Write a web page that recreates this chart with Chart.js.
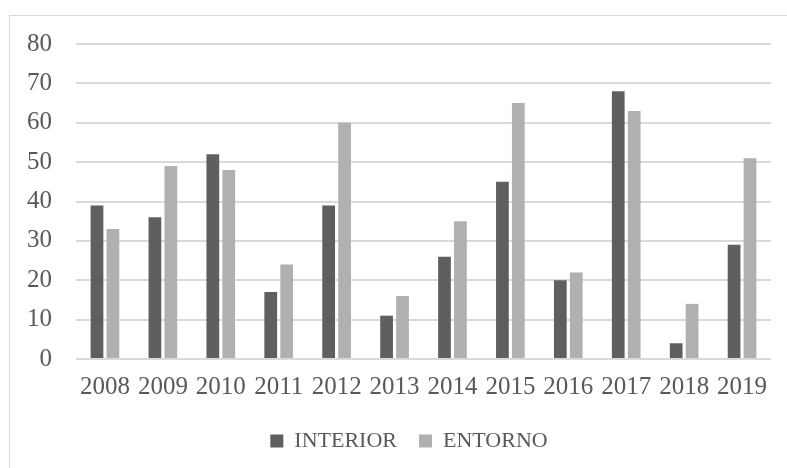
<!DOCTYPE html>
<html>
<head>
<meta charset="utf-8">
<script src="https://cdn.jsdelivr.net/npm/chart.js@4"></script>
<style>
  html, body { margin: 0; padding: 0; background: #fff; overflow: hidden; }
  #frame {
    position: absolute;
    left: 9px;
    top: 15px;
    width: 798px;
    height: 470px;
    border: 1px solid #d9d9d9;
  }
</style>
</head>
<body>
<div id="frame"><canvas id="chart"></canvas></div>
<script>
const years = ['2008', '2009', '2010', '2011', '2012', '2013', '2014', '2015', '2016', '2017', '2018', '2019'];
const interior = [39, 36, 52, 17, 39, 11, 26, 45, 20, 68, 4, 29];
const entorno = [33, 49, 48, 24, 60, 16, 35, 65, 22, 63, 14, 51];
const yTicks = [0, 10, 20, 30, 40, 50, 60, 70, 80];

const textColor = '#595959';
const gridColor = '#d9d9d9';
const serif = '"Liberation Serif", serif';
const rightGap = 37;

// center the legend on the whole canvas instead of the padded box
const centerLegend = {
    id: 'centerLegend',
    afterLayout(chart) {
        if (chart.legend) {
            chart.legend.left += rightGap;
        }
    }
};

new Chart(document.getElementById('chart'), {
    type: 'bar',
    data: {
        labels: years,
        datasets: [
            {
                label: 'INTERIOR',
                data: interior,
                backgroundColor: '#5f5f5f',
                barPercentage: 0.8,
                categoryPercentage: 0.55
            },
            {
                label: 'ENTORNO',
                data: entorno,
                backgroundColor: '#b0b0b0',
                barPercentage: 0.8,
                categoryPercentage: 0.55
            }
        ]
    },
    plugins: [centerLegend],
    options: {
        responsive: true,
        maintainAspectRatio: false,
        animation: false,
        layout: { padding: { top: 28, right: rightGap, bottom: 24, left: 0 } },
        plugins: {
            tooltip: { enabled: false },
            legend: {
                position: 'bottom',
                labels: {
                    color: textColor,
                    font: { family: serif, size: 22 },
                    boxWidth: 13,
                    boxHeight: 13,
                    padding: 22
                }
            }
        },
        scales: {
            x: {
                grid: { display: false },
                border: { display: false },
                ticks: {
                    color: textColor,
                    font: { family: serif, size: 25, lineHeight: 0.76 },
                    padding: 11,
                    maxRotation: 0,
                    autoSkip: false
                }
            },
            y: {
                min: 0,
                max: 80,
                afterFit: (scale) => { scale.width = 66; },
                afterBuildTicks: (scale) => { scale.ticks = yTicks.map(v => ({ value: v })); },
                grid: { color: gridColor, lineWidth: 2, drawTicks: false },
                border: { display: false },
                ticks: {
                    color: textColor,
                    font: { family: serif, size: 25, lineHeight: 0.2 },
                    padding: 24
                }
            }
        }
    }
});
</script>
</body>
</html>
